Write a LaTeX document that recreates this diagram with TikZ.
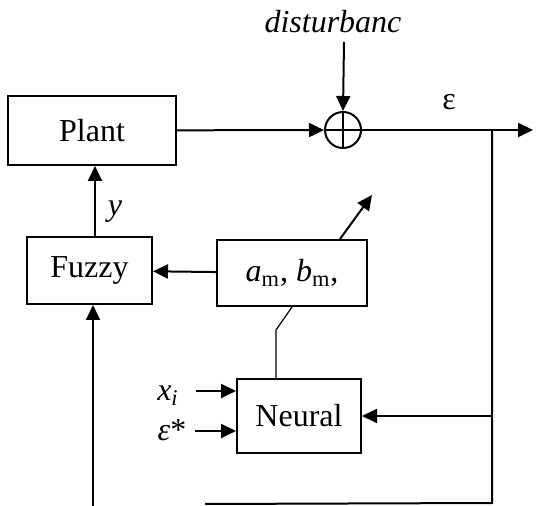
\documentclass[tikz,border=0pt]{standalone}
\usepackage{fontspec}
\setmainfont{Liberation Serif}
\usetikzlibrary{positioning, arrows.meta, calc}

\begin{document}
\begin{tikzpicture}[
  x=0.5pt, y=-0.5pt,
  font=\fontsize{16}{19}\selectfont,
  blk/.style={draw, line width=1pt, inner sep=0pt, align=center},
  sum/.style={draw, circle, line width=1pt, minimum size=18pt, inner sep=0pt},
  link/.style={-{Triangle[length=7.5pt, width=7pt]}, line width=1pt},
  wire/.style={line width=1pt},
  thin wire/.style={line width=0.6pt},
]
\useasboundingbox (0,0) rectangle (540,506);

\node[blk, minimum width=84pt, minimum height=34.5pt] (plant) at (92,130.5) {Plant};
\node[sum] (sum) at (343,130) {};
\draw[thin wire] (sum.north) -- (sum.south) (sum.west) -- (sum.east);
\node (dist) at (333,22) {\textit{disturbanc}};

\node[blk, minimum width=62.5pt, minimum height=33.5pt] (fuzzy) at (89.5,270.5) {Fuzzy};
\node[blk, minimum width=75pt, minimum height=33pt] (param) at (292,273)
    {\textit{a}\textsubscript{m}, \textit{b}\textsubscript{m},};
\node[blk, minimum width=62pt, minimum height=37pt] (neural) at (299,416) {Neural};

\node (xi) at (168,396) {\textit{x}\textsubscript{\textit{i}}};
\node (epsstar) at (172,430) {\textit{ε}*};
\node (eps) at (449,102) {ε};
\node (ylab) at (115,212) {\textit{y}};

\coordinate (distin) at (344,42);
\coordinate (out) at (533,130);
\coordinate (tap) at (492,130);
\coordinate (bottom) at (492,503);
\coordinate (bottomleft) at (205,504);
\coordinate (fuzzyin) at (93,506);
\coordinate (tune) at (372,195);
\coordinate (kink) at (276,330);
\coordinate (xin) at (196,391);
\coordinate (epsin) at (195,431);

\draw[link] (distin) -- (sum.north);
\draw[link] (plant) -- (sum);
\draw[link] (sum) -- (out);
\draw[wire] (tap) -- (bottom) -- (bottomleft);
\draw[link] (tap |- neural) -- (neural);
\draw[link] (fuzzyin) -- (fuzzyin |- fuzzy.south);
\draw[link] (fuzzy.north -| 95,0) -- (plant.south -| 95,0);
\draw[link] (param) -- (fuzzy);
\draw[link] ($(param.north)+(48,0)$) -- (tune);
\draw[thin wire] (param.south) -- (kink) -- (kink |- neural.north);
\draw[link] (xin) -- (xin -| neural.west);
\draw[link] (epsin) -- (epsin -| neural.west);

\end{tikzpicture}
\end{document}
